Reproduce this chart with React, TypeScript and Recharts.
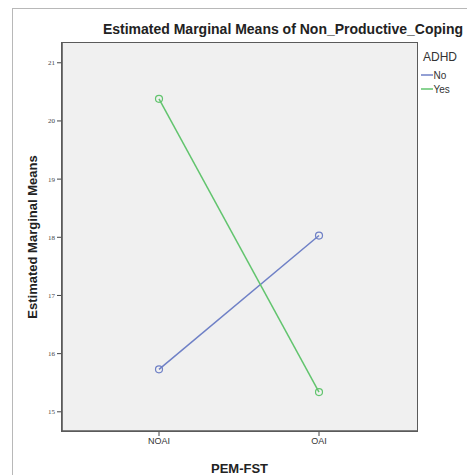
import React from 'react';
import { LineChart, Line, XAxis, YAxis, CartesianGrid, Label } from 'recharts';

const categories = ['NOAI', 'OAI'];
const noValues = [15.73, 18.03];
const yesValues = [20.38, 15.34];
const yTicks = [15, 16, 17, 18, 19, 20, 21];
const legendTitle = 'ADHD';
const seriesNames = ['No', 'Yes'];

const data = categories.map((c, i) => ({ cat: c, No: noValues[i], Yes: yesValues[i] }));

const BLUE = '#6f80c6';
const GREEN = '#62c46e';
const COLORS = [BLUE, GREEN];
const FONT = 'Liberation Sans, Arial, sans-serif';
const BORDER = '#5a5a5a';

const HollowDot = (props: any) => {
  const { cx, cy, stroke } = props;
  if (cx == null || cy == null) return null;
  return <circle cx={cx} cy={cy} r={3.5} fill="none" stroke={stroke} strokeWidth={1.2} />;
};

export default function App() {
  return (
    <div style={{ position: 'absolute', left: 0, top: 0, width: 467, height: 475, background: '#fff' }}>
      <div style={{ position: 'absolute', left: 12, top: 8, width: 455, height: 467, borderLeft: '1px solid #b8b8b8', borderTop: '1px solid #b8b8b8' }} />
      <div style={{ position: 'absolute', left: 0, top: 0 }}>
        <LineChart width={467} height={475} data={data} margin={{ top: 43, right: 50, left: 0, bottom: 0 }}>
          <text x={283} y={34} textAnchor="middle" fontFamily={FONT} fontWeight="bold" fontSize={14} fill="#222">
            Estimated Marginal Means of Non_Productive_Coping
          </text>
          <g>
            <text x={423} y={61} fontFamily={FONT} fontSize={12} fill="#333">{legendTitle}</text>
            {seriesNames.map((n, i) => (
              <g key={n}>
                <line x1={421} x2={433} y1={75 + i * 14} y2={75 + i * 14} stroke={COLORS[i]} strokeWidth={1.5} />
                <text x={433.5} y={78.5 + i * 14} fontFamily={FONT} fontSize={10} fill="#333">{n}</text>
              </g>
            ))}
          </g>
          <CartesianGrid fill="#f0f0f0" fillOpacity={1} horizontal={false} vertical={false} stroke="none" />
          <XAxis
            dataKey="cat"
            type="category"
            padding={{ left: 97, right: 98 }}
            height={44}
            tickSize={5}
            tickLine={{ stroke: '#444' }}
            axisLine={{ stroke: BORDER, strokeWidth: 1.6 }}
            tick={{ fontSize: 9, fill: '#333', fontFamily: FONT }}
          >
            <Label value="PEM-FST" position="insideBottom" offset={2} fontFamily={FONT} fontWeight="bold" fontSize={13} fill="#222" />
          </XAxis>
          <YAxis
            width={62}
            type="number"
            domain={[14.67, 21.34]}
            ticks={yTicks}
            interval={0}
            tickSize={5}
            tickLine={{ stroke: '#444' }}
            axisLine={{ stroke: BORDER, strokeWidth: 1.6 }}
            tick={{ fontSize: 7, fill: '#444', fontFamily: 'Liberation Serif, serif' }}
            allowDataOverflow
          >
            <Label value="Estimated Marginal Means" angle={-90} position="insideLeft" offset={32} textAnchor="middle" fontFamily={FONT} fontWeight="bold" fontSize={13} fill="#222" />
          </YAxis>
          <Line dataKey="No" name="No" stroke={BLUE} strokeWidth={1.5} dot={<HollowDot />} activeDot={false} isAnimationActive={false} />
          <Line dataKey="Yes" name="Yes" stroke={GREEN} strokeWidth={1.5} dot={<HollowDot />} activeDot={false} isAnimationActive={false} />
        </LineChart>
      </div>
      <div style={{ position: 'absolute', left: 61.2, top: 42.2, width: 356.6, height: 389.6, border: `1.6px solid ${BORDER}`, boxSizing: 'border-box', pointerEvents: 'none' }} />
    </div>
  );
}
